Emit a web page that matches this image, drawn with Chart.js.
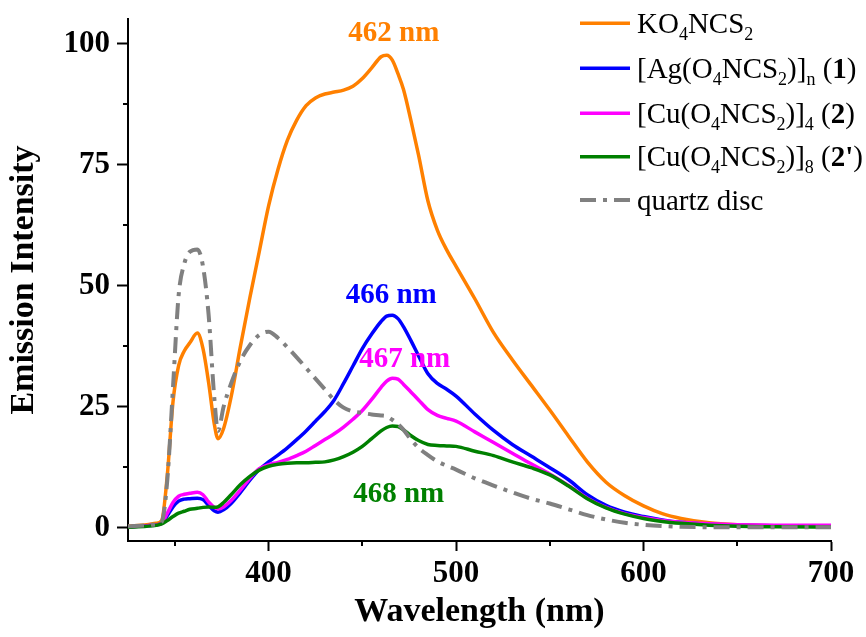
<!DOCTYPE html>
<html>
<head>
<meta charset="utf-8">
<script src="https://cdn.jsdelivr.net/npm/chart.js@4"></script>
<style>
  body { margin: 0; background: #fff; }
  #wrap { width: 866px; height: 637px; }
</style>
</head>
<body>
<div id="wrap"><canvas id="emChart" width="866" height="637"></canvas></div>
<script>
// emission spectra, values
const wavelength = [325, 335, 340, 343, 346, 349, 352, 355, 358, 362,
  365, 368, 371, 373, 376, 380, 385, 390, 395, 400,
  405, 410, 415, 420, 425, 430, 435, 440, 445, 450,
  455, 460, 463, 466, 469, 472, 476, 480, 485, 490,
  495, 500, 510, 520, 530, 540, 550, 560, 570, 580,
  590, 600, 610, 620, 635, 650, 670, 700]

const koNCS = [0.3, 0.6, 0.9, 1.5, 11, 26, 33.5, 36.5, 38.2, 40.2,
  37, 30, 21.5, 18.4, 20.5, 27, 37.5, 47.5, 57, 66.5,
  74, 80, 84.2, 87.2, 88.8, 89.6, 90, 90.4, 91.2, 92.8,
  95, 97.3, 97.6, 96.6, 93.8, 90.5, 84, 77, 67.5, 61.5,
  57.4, 54, 47.3, 40.3, 34.7, 29.5, 24.3, 18.9, 13.6, 9.4,
  6.6, 4.5, 2.9, 1.9, 1.0, 0.6, 0.4, 0.3]

const agNCS = [0.2, 0.4, 0.6, 0.9, 2.5, 4.3, 5.5, 5.9, 6.0, 6.1,
  5.8, 4.6, 3.5, 3.2, 3.7, 5.0, 7.3, 9.8, 12, 13.6,
  15, 16.5, 18.2, 20, 22, 24, 26.4, 29.8, 33.4, 37,
  40, 42.6, 43.7, 43.9, 43.2, 41.5, 38.6, 35.5, 31.8, 29.8,
  28.6, 27.2, 23.5, 20.1, 17.2, 14.8, 12.4, 9.9, 6.8, 4.6,
  3.2, 2.3, 1.6, 1.1, 0.7, 0.5, 0.4, 0.4]

const cu4NCS = [0.2, 0.4, 0.6, 0.9, 3, 5.2, 6.5, 6.9, 7.1, 7.3,
  6.8, 5.3, 4.2, 3.9, 4.3, 5.6, 7.8, 10.2, 12.2, 13,
  13.5, 14.1, 14.9, 15.8, 17, 18.2, 19.4, 20.8, 22.4, 24.2,
  26.5, 29, 30.3, 30.9, 30.7, 29.6, 28, 26.4, 24.4, 23.2,
  22.6, 22, 19.8, 17.6, 15.4, 13.2, 11.1, 8.7, 6.1, 4.2,
  2.9, 2.1, 1.5, 1.1, 0.8, 0.6, 0.5, 0.5]

const cu8NCS = [0.1, 0.3, 0.5, 0.8, 1.5, 2.3, 3.0, 3.4, 3.8, 4.0,
  4.2, 4.3, 4.2, 4.3, 5.2, 6.8, 8.9, 10.6, 11.9, 12.7,
  13.1, 13.3, 13.4, 13.4, 13.5, 13.6, 14, 14.7, 15.6, 16.8,
  18.4, 20, 20.7, 21, 20.9, 20.2, 19, 18, 17.2, 17,
  16.9, 16.8, 15.8, 14.9, 13.6, 12.4, 10.9, 8.6, 6, 4.1,
  2.8, 1.9, 1.3, 0.9, 0.5, 0.3, 0.2, 0.1]

const quartz = [0.3, 0.5, 0.7, 1.2, 10, 29, 48, 54.5, 57, 57.5,
  54, 44, 27, 20, 25, 29.8, 34.5, 37.7, 39.8, 40.5,
  39.2, 37.3, 35.2, 33, 30.8, 28.6, 26.4, 24.8, 24, 23.7,
  23.4, 23.2, 23, 22.3, 21.4, 20.2, 18.2, 16.5, 15, 13.7,
  12.8, 12, 10.2, 8.7, 7.3, 6, 5, 3.8, 2.6, 1.7,
  1.0, 0.6, 0.35, 0.2, 0.1, 0.1, 0.1, 0.1]

const xTicks = [400, 500, 600, 700]
const yTicks = [0, 25, 50, 75, 100]
const xMinor = [350, 450, 550, 650]
const yMinor = [12.5, 37.5, 62.5, 87.5]

const peakLabels = ['462 nm', '466 nm', '467 nm', '468 nm']
const peakAt = [[466.8, 100.6], [465.4, 46.4], [472.6, 33.1], [469.4, 5.4]]   // where the text sits (data units)

const colors = ['#ff8000', '#0000ff', '#ff00ff', '#008000', '#808080']
const serif = '"Liberation Serif", "Times New Roman", serif'

// legend text with sub/bold runs
const legendRuns = [
  [{t: 'KO'}, {t: '4', sub: true}, {t: 'NCS'}, {t: '2', sub: true}],
  [{t: '[Ag(O'}, {t: '4', sub: true}, {t: 'NCS'}, {t: '2', sub: true}, {t: ')]'}, {t: 'n', sub: true}, {t: ' ('}, {t: '1', bold: true}, {t: ')'}],
  [{t: '[Cu(O'}, {t: '4', sub: true}, {t: 'NCS'}, {t: '2', sub: true}, {t: ')]'}, {t: '4', sub: true}, {t: ' ('}, {t: '2', bold: true}, {t: ')'}],
  [{t: '[Cu(O'}, {t: '4', sub: true}, {t: 'NCS'}, {t: '2', sub: true}, {t: ')]'}, {t: '8', sub: true}, {t: ' ('}, {t: "2'", bold: true}, {t: ')'}],
  [{t: 'quartz disc'}]
]

function pts(ys) {
  return wavelength.map((w, i) => ({x: w, y: ys[i]}))
}

function drawRich(ctx, x, y, runs) {
  runs.forEach(r => {
    let size = r.sub ? 18 : 29
    ctx.font = (r.bold ? 'bold ' : '') + size + 'px ' + serif
    ctx.fillText(r.t, x, y + (r.sub ? 7 : 0))
    x += ctx.measureText(r.t).width
  })
}

const axisExtras = {
  id: 'axisExtras',
  afterDraw(chart) {
    const ctx = chart.ctx
    const xs = chart.scales.x, ys = chart.scales.y
    ctx.save()
    ctx.strokeStyle = '#000'
    ctx.lineWidth = 2
    ctx.beginPath()
    xMinor.forEach(v => {
      let px = Math.round(xs.getPixelForValue(v))
      ctx.moveTo(px, chart.chartArea.bottom)
      ctx.lineTo(px, chart.chartArea.bottom + 5)
    })
    yMinor.forEach(v => {
      let py = Math.round(ys.getPixelForValue(v))
      ctx.moveTo(chart.chartArea.left, py)
      ctx.lineTo(chart.chartArea.left - 5, py)
    })
    ctx.stroke()

    // peak labels
    ctx.font = 'bold 29px ' + serif
    ctx.textAlign = 'center'
    ctx.textBaseline = 'alphabetic'
    peakLabels.forEach((txt, i) => {
      ctx.fillStyle = colors[i]
      ctx.fillText(txt, xs.getPixelForValue(peakAt[i][0]), ys.getPixelForValue(peakAt[i][1]))
    })

    // legend
    ctx.textAlign = 'left'
    const rowY = [23.3, 68.3, 113.3, 156.7, 200]
    legendRuns.forEach((runs, i) => {
      ctx.strokeStyle = colors[i]
      ctx.lineWidth = i == 4 ? 4 : 3.5
      ctx.setLineDash(i == 4 ? [16, 7, 4, 7] : [])
      ctx.beginPath()
      ctx.moveTo(580, rowY[i])
      ctx.lineTo(630, rowY[i])
      ctx.stroke()
      ctx.fillStyle = '#000'
      drawRich(ctx, 637, rowY[i] + 9.5, runs)
    })
    ctx.restore()
  }
}

function lineSet(label, ys, idx, order) {
  return {
    label: label,
    data: pts(ys),
    borderColor: colors[idx],
    borderWidth: 3.5,
    pointRadius: 0,
    fill: false,
    cubicInterpolationMode: 'monotone',
    order: order
  }
}

const datasets = [
  lineSet('KO4NCS2', koNCS, 0, 5),
  lineSet('[Ag(O4NCS2)]n (1)', agNCS, 1, 4),
  lineSet('[Cu(O4NCS2)]4 (2)', cu4NCS, 2, 3),
  lineSet("[Cu(O4NCS2)]8 (2')", cu8NCS, 3, 2),
  lineSet('quartz disc', quartz, 4, 1)
]
datasets[4].borderDash = [16, 7, 4, 7]
datasets[4].borderWidth = 4
datasets[4].borderCapStyle = 'butt'

const tickFont = {family: serif, size: 31, weight: 'bold'}
const titleFont = {family: serif, size: 34, weight: 'bold', lineHeight: 1.2}

var chrt = document.getElementById('emChart').getContext('2d')
new Chart(chrt, {
  type: 'line',
  data: {datasets: datasets},
  options: {
    responsive: false,
    animation: false,
    devicePixelRatio: 1,
    layout: {padding: {top: 19, right: 35, left: 0, bottom: 0}},
    plugins: {legend: {display: false}, tooltip: {enabled: false}},
    scales: {
      x: {
        type: 'linear',
        min: 325,
        max: 700,
        afterBuildTicks: s => { s.ticks = xTicks.map(v => ({value: v})) },
        afterFit: s => { s.height = 96; s.paddingLeft = 0; s.paddingRight = 0 },
        ticks: {font: tickFont, color: '#000', padding: 4, maxRotation: 0},
        grid: {drawOnChartArea: false, tickLength: 10, tickWidth: 2, tickColor: '#000'},
        border: {color: '#000', width: 2},
        title: {display: true, text: 'Wavelength (nm)', font: titleFont, color: '#000', padding: {top: 0, bottom: 4}}
      },
      y: {
        min: -2.75,
        max: 105.1,
        afterBuildTicks: s => { s.ticks = yTicks.map(v => ({value: v})) },
        afterFit: s => { s.width = 128; s.paddingTop = 0; s.paddingBottom = 0 },
        ticks: {font: tickFont, color: '#000', padding: 7},
        grid: {drawOnChartArea: false, tickLength: 11, tickWidth: 2, tickColor: '#000'},
        border: {color: '#000', width: 2},
        title: {display: true, text: 'Emission Intensity', font: titleFont, color: '#000', padding: {top: 4, bottom: 0}}
      }
    }
  },
  plugins: [axisExtras]
})
</script>
</body>
</html>
